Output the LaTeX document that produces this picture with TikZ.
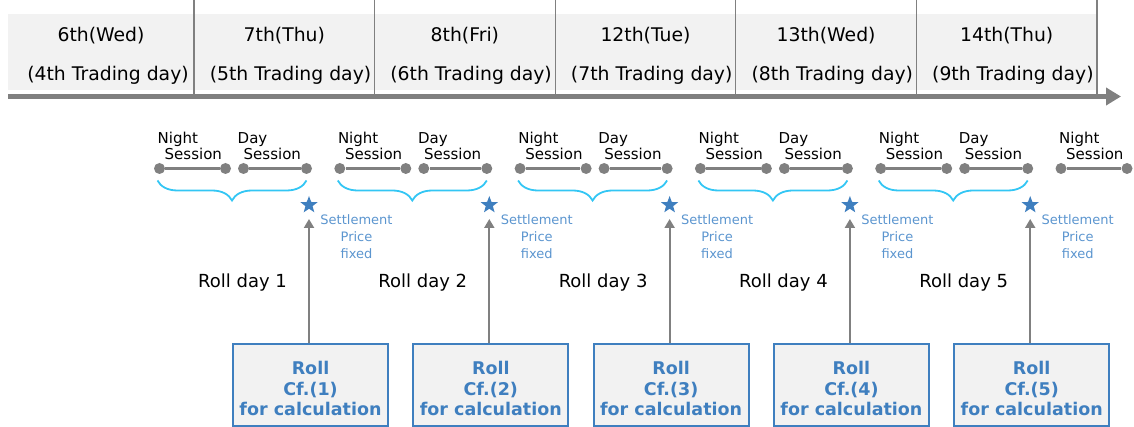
\documentclass[tikz,border=0pt]{standalone}
\usepackage{fontspec}
\setmainfont{DejaVu Sans}
\usetikzlibrary{shapes.geometric,arrows.meta,decorations.pathreplacing,calc}
\definecolor{lgray}{HTML}{F2F2F2}
\definecolor{dgray}{HTML}{808080}
\definecolor{boxblue}{HTML}{3F7FBF}
\definecolor{txtblue}{HTML}{3F7FBF}
\definecolor{setblue}{HTML}{5B95CF}
\definecolor{cyanb}{HTML}{33C6F4}
\tikzset{
 hdr/.style={font=\fontsize{18.8}{21}\selectfont, anchor=base, text=black, inner sep=0pt},
 sess/.style={font=\fontsize{15}{16}\selectfont, anchor=base west, inner sep=0pt},
 dotn/.style={circle, fill=dgray, minimum size=11pt, inner sep=0pt},
 seg/.style={dgray, line width=2.5pt},
 br/.style={cyanb, line width=1.8pt, decorate, decoration={brace, mirror, amplitude=20pt}},
 stp/.style={star, star points=5, star point ratio=2.4, fill=boxblue, minimum size=18pt, inner sep=0pt},
 settle/.style={font=\fontsize{13}{17}\selectfont, text=setblue, align=center, inner sep=0pt, anchor=north},
 rollday/.style={font=\fontsize{18}{20}\selectfont, anchor=base, inner sep=0pt},
 rollbox/.style={draw=boxblue, line width=2pt, fill=lgray, minimum width=155pt, minimum height=82pt, inner sep=0pt},
 boxtxt/.style={font=\fontsize{17.5}{20}\selectfont\bfseries, text=txtblue, anchor=base, inner sep=0pt},
 uparrow/.style={dgray, line width=2pt, -{Triangle[length=9pt,width=10pt]}},
 sep/.style={dgray, line width=1.3pt},
 timeline/.style={dgray, line width=5pt, -{Triangle[length=15pt,width=17pt]}},
}
\begin{document}
\begin{tikzpicture}[x=1pt,y=-1pt]
\useasboundingbox (0,0) rectangle (1134,427);
% header band
\fill[lgray] (8,14) rectangle (1097,90);
\foreach \i in {0,...,5} {
  \draw[sep] ({194+180.6*\i},0) -- ({194+180.6*\i},96);
}
\coordinate (tl0) at (8,96.5);
\coordinate (tl1) at (1121,96.5);
\draw[timeline] (tl0) -- (tl1);
% header texts
\node[hdr] (d0) at (101,42) {6th(Wed)};
\node[hdr] (t0) at (108,81) {(4th Trading day)};
\foreach \d/\t [count=\i] in {7th(Thu)/(5th Trading day),8th(Fri)/(6th Trading day),12th(Tue)/(7th Trading day),13th(Wed)/(8th Trading day),14th(Thu)/(9th Trading day)} {
  \node[hdr] (d\i) at ({194+180.6*(\i-1)+90.3},42) {\d};
  \node[hdr] (t\i) at ({194+180.6*(\i-1)+96.5},81) {\t};
}
% sessions
\foreach \k in {0,...,4} {
  \pgfmathsetmacro{\xo}{159.5+180.3*\k}
  \node[sess] (nl\k) at ({\xo-2},144) {Night};
  \node[sess] (ns\k) at ({\xo+5},159.5) {Session};
  \node[sess] (dl\k) at ({\xo+78},144) {Day};
  \node[sess] (ds\k) at ({\xo+84},159.5) {Session};
  \node[dotn] (na\k) at (\xo,168.5) {};
  \node[dotn] (nb\k) at ({\xo+66},168.5) {};
  \node[dotn] (da\k) at ({\xo+84},168.5) {};
  \node[dotn] (db\k) at ({\xo+147},168.5) {};
  \draw[seg] (na\k) -- (nb\k);
  \draw[seg] (da\k) -- (db\k);
  \coordinate (bra\k) at ({\xo-2},180.5);
  \coordinate (brb\k) at ({\xo+147},180.5);
  \draw[br] (bra\k) -- (brb\k);
  \node[stp] (st\k) at ({\xo+149.5},205) {};
  \coordinate (tip\k) at ({\xo+149.5},219);
  \node[settle] (sp\k) at ({\xo+197},214) {Settlement\\Price\\fixed};
  \node[rollday] (rd\k) at ({\xo+83},288) {Roll day \the\numexpr\k+1\relax};
  \node[rollbox] (rb\k) at ({\xo+151},385) {};
  \node[boxtxt] (r1\k) at ({\xo+151},374) {Roll};
  \node[boxtxt] (r2\k) at ({\xo+151},395) {Cf.(\the\numexpr\k+1\relax)};
  \node[boxtxt] (r3\k) at ({\xo+151},415) {for calculation};
  \draw[uparrow] (rb\k.north -| tip\k) -- (tip\k);
}
% extra night session
\pgfmathsetmacro{\xf}{159.5+180.3*5}
\node[sess] (nl5) at ({\xf-2},144) {Night};
\node[sess] (ns5) at ({\xf+5},159.5) {Session};
\node[dotn] (na5) at (\xf,168.5) {};
\node[dotn] (nb5) at ({\xf+66},168.5) {};
\draw[seg] (na5) -- (nb5);
\end{tikzpicture}
\end{document}
